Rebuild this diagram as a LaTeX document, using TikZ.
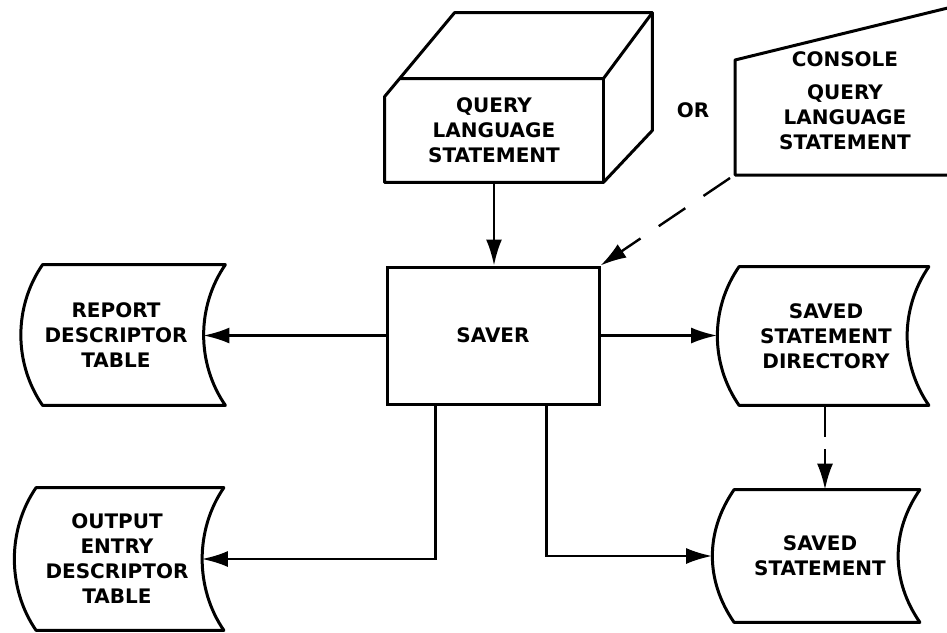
\documentclass[tikz,border=0pt]{standalone}
\usepackage{fontspec}
\setmainfont{DejaVu Sans}
\usetikzlibrary{arrows.meta,calc}
\tikzset{
  every node/.style={font=\fontsize{10}{12.5}\selectfont\bfseries},
  box/.style={rectangle,draw=black,line width=1.5pt,inner sep=0pt,align=center},
  store/.style={rectangle,inner sep=0pt,align=center},
  storetext/.style={align=center},
  outline/.style={line width=1.5pt,line join=round},
  flow/.style={line width=1.2pt,-{Latex[length=13pt,width=8pt]}},
}
\newcommand{\storeoutline}[1]{%
  \draw[outline] ($(#1.north west)+(22,0)$) .. controls +(-29,42) and +(-29,-42) .. ($(#1.south west)+(22,0)$)
    -- ($(#1.south east)+(22,0)$) .. controls +(-29,-42) and +(-29,42) .. ($(#1.north east)+(22,0)$) -- cycle;}
\begin{document}
\begin{tikzpicture}[x=0.5pt,y=-0.5pt]
\useasboundingbox (0,0) rectangle (947,632);
\node[store,minimum width=109pt,minimum height=51.5pt] (qls) at (494,130.5) {QUERY\\LANGUAGE\\STATEMENT};
\draw[outline] (qls.south west) -- ($(qls.north west)+(0,18)$) -- ($(qls.north west)+(70,-66)$)
  -- ($(qls.north east)+(49,-66)$) -- ($(qls.south east)+(49,-52)$) -- (qls.south east) -- cycle;
\draw[outline] ($(qls.north west)+(15,0)$) -- (qls.north east) -- ($(qls.north east)+(49,-66)$);
\draw[outline] (qls.north east) -- (qls.south east);
\node (or) at (693,110) {OR};
\node[store] (cqs) at (845,101) {CONSOLE\\[4pt]QUERY\\LANGUAGE\\STATEMENT};
\coordinate (cqsw) at (735,175);
\draw[outline] (960,5) -- (735,60) -- (cqsw) -- (960,175);
\node[box,minimum width=106pt,minimum height=68.5pt] (saver) at (493,335.5) {SAVER};
\node[store,minimum width=91pt,minimum height=70pt,
  label={[storetext,xshift=2pt]center:{REPORT\\DESCRIPTOR\\TABLE}}] (rdt) at (112,335) {};
\node[store,minimum width=93.5pt,minimum height=71pt,
  label={[storetext,xshift=4.5pt]center:{OUTPUT\\ENTRY\\DESCRIPTOR\\TABLE}}] (oedt) at (108,559) {};
\node[store,minimum width=94.5pt,minimum height=69pt,
  label={[storetext,xshift=7pt]center:{SAVED\\STATEMENT\\DIRECTORY}}] (ssd) at (812,336) {};
\node[store,minimum width=92.5pt,minimum height=66pt,
  label={[storetext,xshift=7.5pt]center:{SAVED\\STATEMENT}}] (ss) at (805,556) {};
\storeoutline{rdt}
\storeoutline{oedt}
\storeoutline{ssd}
\storeoutline{ss}
\draw[flow] (qls.south) -- (qls.south |- saver.north);
\draw[flow,dash pattern=on 16pt off 11pt] ($(cqsw)+(-5,3)$) -- (saver.north east);
\draw[flow] (saver.west) -- (saver.west -| rdt.east);
\draw[flow] (saver.east) -- (saver.east -| ssd.west);
\draw[flow] ($(saver.south west)+(50,0)$) |- (oedt.east);
\draw[flow] ($(saver.south east)+(-54,0)$) |- (ss.west);
\draw[flow,dash pattern=on 16pt off 6pt] ([xshift=6.5pt]ssd.south) -- ([xshift=6.5pt]ssd.south |- ss.north);
\end{tikzpicture}
\end{document}
